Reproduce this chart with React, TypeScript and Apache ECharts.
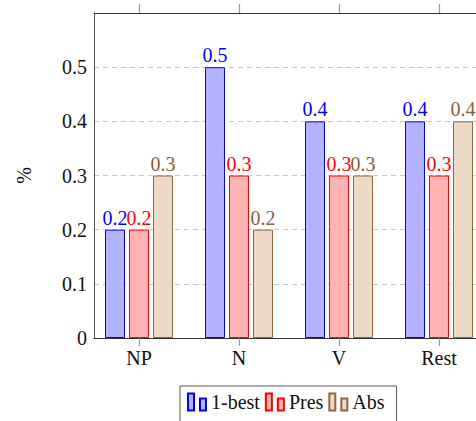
import React, { useEffect, useRef } from "react";
import * as echarts from "echarts";

const categories = ["NP", "N", "V", "Rest"];
const bestValues = [0.2, 0.5, 0.4, 0.4];
const presValues = [0.2, 0.3, 0.3, 0.3];
const absValues = [0.3, 0.2, 0.3, 0.4];
const seriesNames = ["1-best", "Pres", "Abs"];
const yTicks = [0, 0.1, 0.2, 0.3, 0.4, 0.5];

const FONT = "'Liberation Serif', 'DejaVu Serif', serif";
const ICON = "path://M0,0 h6 v17 h-6 Z M12,5 h6 v12 h-6 Z";

export default function App() {
  const ref = useRef<HTMLDivElement>(null);
  useEffect(() => {
    if (!ref.current) return;
    const chart = echarts.init(ref.current, null, { renderer: "svg" });
    const catIdx = categories.map((_, i) => i);
    const mk = (vals: number[]) => vals.map((v, i) => [i, v]);
    const styles = [
      { fill: "rgb(179,179,255)", stroke: "rgb(0,0,255)" },
      { fill: "rgb(255,179,179)", stroke: "rgb(255,0,0)" },
      { fill: "rgb(236,217,198)", stroke: "rgb(150,100,60)" },
    ];
    const labelColors = ["rgb(0,0,255)", "rgb(255,0,0)", "rgb(140,95,55)"];
    const allVals = [bestValues, presValues, absValues];
    chart.setOption({
      animation: false,
      textStyle: { fontFamily: FONT },
      grid: { left: 94, top: 13, right: 16, bottom: 83 },
      legend: {
        left: 180,
        top: 386,
        padding: [6, 12, 20, 7],
        itemGap: 5,
        itemWidth: 18,
        itemHeight: 17,
        borderColor: "#555",
        borderWidth: 1,
        icon: ICON,
        textStyle: { fontFamily: FONT, fontSize: 20, color: "#111" },
        data: seriesNames,
      },
      xAxis: [
        {
          type: "value",
          min: -0.45,
          max: 3.45,
          position: "bottom",
          axisLine: { onZero: false, lineStyle: { color: "#333", width: 1 } },
          axisTick: {
            show: true,
            customValues: catIdx,
            length: 8,
            lineStyle: { color: "#999", width: 1.2 },
          },
          axisLabel: {
            customValues: catIdx,
            formatter: (v: number) => categories[Math.round(v)] ?? "",
            fontFamily: FONT,
            fontSize: 20,
            color: "#111",
            margin: 10,
          },
          splitLine: { show: false },
        },
        {
          type: "value",
          min: -0.45,
          max: 3.45,
          position: "top",
          axisLine: { show: true, onZero: false, lineStyle: { color: "#333", width: 1 } },
          axisTick: {
            show: true,
            customValues: catIdx,
            length: 9,
            lineStyle: { color: "#999", width: 1.2 },
          },
          axisLabel: { show: false },
          splitLine: { show: false },
        },
      ],
      yAxis: {
        type: "value",
        min: 0,
        max: 0.6,
        interval: 0.1,
        name: "%",
        nameLocation: "middle",
        nameRotate: 90,
        nameGap: 60,
        nameTextStyle: { fontFamily: FONT, fontSize: 20, color: "#111" },
        axisLine: { show: true, onZero: false, lineStyle: { color: "#555", width: 1 } },
        axisTick: { show: false },
        axisLabel: {
          customValues: yTicks,
          formatter: (v: number) => String(Number(v.toFixed(1))),
          fontFamily: FONT,
          fontSize: 20,
          color: "#111",
          margin: 7,
        },
        splitLine: {
          show: true,
          lineStyle: { color: "#c8c8c8", type: [5, 4], width: 1 },
        },
      },
      series: seriesNames.map((name, k) => ({
        name,
        type: "bar",
        xAxisIndex: 0,
        barWidth: 20,
        barGap: "20%",
        data: mk(allVals[k]),
        itemStyle: {
          color: styles[k].fill,
          borderColor: styles[k].stroke,
          borderWidth: 1,
        },
        label: {
          show: true,
          position: "top",
          distance: 2,
          color: labelColors[k],
          fontFamily: FONT,
          fontSize: 20,
          formatter: (p: any) => String(p.value[1]),
        },
      })),
    });
    return () => chart.dispose();
  }, []);
  return (
    <div
      style={{
        position: "absolute",
        left: 0,
        top: 0,
        width: 476,
        height: 421,
        overflow: "hidden",
      }}
    >
      <div ref={ref} style={{ width: 500, height: 421 }} />
    </div>
  );
}
